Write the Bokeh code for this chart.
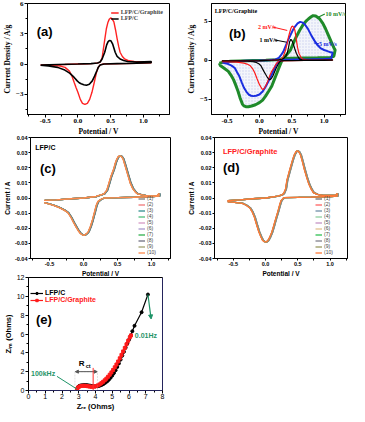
import numpy as np
from bokeh.plotting import figure
from bokeh.models import (Range1d, FixedTicker, NumeralTickFormatter, Legend, LegendItem,
                          Label, Arrow, NormalHead, BoxAnnotation, Span)
from bokeh.layouts import column, row
from bokeh.embed import file_html
from bokeh.resources import INLINE

SERIF = "Liberation Serif"
SANS = "Liberation Sans"

# ---------------- data: panel (a) ----------------
a_red_fwd_x = [-0.57, -0.4, -0.2, 0.0, 0.15, 0.25, 0.31, 0.34, 0.37, 0.39, 0.41, 0.435, 0.46, 0.48, 0.5, 0.52, 0.55, 0.575, 0.6, 0.625, 0.645, 0.68, 0.715, 0.78, 0.86, 1.0, 1.12]
a_red_fwd_y = [-0.1, -0.07, -0.04, 0.0, 0.03, 0.07, 0.12, 0.2, 0.6, 1.5, 2.4, 3.5, 4.15, 4.45, 4.57, 4.5, 4.17, 3.4, 2.5, 1.7, 1.17, 0.75, 0.5, 0.32, 0.25, 0.2, 0.2]
a_red_rev_x = [1.12, 0.9, 0.7, 0.5, 0.38, 0.34, 0.31, 0.28, 0.25, 0.215, 0.18, 0.145, 0.107, 0.07, 0.037, 0.0, -0.03, -0.056, -0.09, -0.13, -0.196, -0.27, -0.35, -0.45, -0.57]
a_red_rev_y = [0.12, 0.07, 0.04, 0.02, 0.0, -0.08, -0.33, -0.95, -1.83, -2.8, -3.5, -3.9, -4.0, -3.9, -3.5, -2.8, -2.3, -1.83, -1.2, -0.7, -0.33, -0.2, -0.15, -0.12, -0.1]
a_blk_fwd_x = [-0.57, -0.3, 0.0, 0.2, 0.3, 0.34, 0.37, 0.41, 0.44, 0.46, 0.48, 0.505, 0.53, 0.55, 0.57, 0.6, 0.645, 0.7, 0.76, 0.9, 1.12]
a_blk_fwd_y = [-0.1, -0.05, 0.0, 0.04, 0.1, 0.2, 0.5, 1.17, 1.9, 2.2, 2.33, 2.3, 2.0, 1.6, 1.17, 0.75, 0.5, 0.35, 0.25, 0.2, 0.25]
a_blk_rev_x = [1.12, 0.9, 0.6, 0.4, 0.34, 0.31, 0.29, 0.255, 0.22, 0.175, 0.13, 0.09, 0.05, 0.02, -0.01, -0.06, -0.126, -0.2, -0.31, -0.45, -0.57]
a_blk_rev_y = [0.14, 0.08, 0.04, 0.0, -0.1, -0.35, -0.67, -1.2, -1.67, -2.0, -2.1, -2.05, -1.95, -1.85, -1.67, -1.3, -0.9, -0.6, -0.33, -0.2, -0.12]

# ---------------- data: panel (b) ----------------
b1_fwd_x = [-0.58, -0.3, 0.0, 0.2, 0.3, 0.35, 0.38, 0.41, 0.43, 0.45, 0.467, 0.486, 0.5, 0.52, 0.545, 0.57, 0.6, 0.62, 0.66, 0.75, 0.9, 1.13]
b1_fwd_y = [-0.08, -0.08, -0.05, 0.0, 0.05, 0.12, 0.25, 0.55, 0.9, 1.6, 2.36, 2.66, 2.55, 2.15, 1.5, 0.89, 0.4, 0.13, 0.05, 0.0, 0.0, 0.05]
b1_rev_x = [1.13, 1.0, 0.7, 0.5, 0.38, 0.33, 0.31, 0.286, 0.26, 0.238, 0.21, 0.19, 0.167, 0.14, 0.12, 0.095, 0.07, 0.045, 0.024, -0.01, -0.048, -0.1, -0.19, -0.35, -0.58]
b1_rev_y = [0.0, -0.02, -0.03, -0.05, -0.07, -0.08, -0.25, -0.59, -1.0, -1.43, -2.0, -2.28, -2.5, -2.4, -2.15, -1.8, -1.43, -1.05, -0.72, -0.45, -0.3, -0.2, -0.13, -0.1, -0.1]
b2_fwd_x = [-0.58, -0.3, 0.0, 0.2, 0.3, 0.34, 0.37, 0.405, 0.43, 0.45, 0.47, 0.486, 0.5, 0.514, 0.53, 0.548, 0.56, 0.571, 0.59, 0.61, 0.64, 0.667, 0.75, 0.9, 1.13]
b2_fwd_y = [-0.1, -0.08, -0.05, 0.0, 0.05, 0.15, 0.5, 1.3, 2.2, 3.0, 3.6, 4.05, 4.3, 4.35, 4.2, 3.84, 3.2, 2.57, 1.6, 0.89, 0.4, 0.13, 0.02, 0.0, 0.05]
b2_rev_x = [1.13, 1.0, 0.7, 0.5, 0.35, 0.29, 0.26, 0.23, 0.19, 0.155, 0.12, 0.09, 0.07, 0.055, 0.04, 0.02, 0.0, -0.035, -0.07, -0.1, -0.14, -0.19, -0.24, -0.35, -0.58]
b2_rev_y = [0.0, -0.02, -0.04, -0.06, -0.1, -0.2, -0.46, -0.9, -1.43, -2.1, -2.9, -3.4, -3.67, -3.75, -3.67, -3.4, -3.1, -2.4, -1.65, -1.15, -0.72, -0.5, -0.38, -0.25, -0.2]
b5_fwd_x = [-0.57, -0.4, -0.2, 0.0, 0.15, 0.25, 0.3, 0.33, 0.37, 0.4, 0.44, 0.48, 0.52, 0.55, 0.59, 0.63, 0.67, 0.7, 0.75, 0.8, 0.85, 0.9, 0.95, 1.0, 1.05, 1.1, 1.13]
b5_fwd_y = [-0.3, -0.15, -0.08, -0.05, 0.0, 0.1, 0.3, 0.6, 1.1, 1.7, 2.5, 3.2, 3.9, 4.3, 4.7, 4.9, 4.8, 4.6, 4.0, 3.2, 2.5, 1.9, 1.5, 1.3, 1.15, 1.0, 0.97]
b5_rev_x = [1.13, 1.11, 1.0, 0.8, 0.6, 0.4, 0.3, 0.26, 0.225, 0.19, 0.14, 0.095, 0.05, 0.0, -0.05, -0.095, -0.13, -0.167, -0.2, -0.238, -0.27, -0.31, -0.345, -0.38, -0.43, -0.48, -0.57]
b5_rev_y = [0.97, 0.2, 0.15, 0.12, 0.1, 0.05, -0.15, -0.59, -1.2, -1.86, -2.7, -3.42, -4.0, -4.39, -4.55, -4.6, -4.55, -4.39, -4.05, -3.54, -2.9, -2.07, -1.55, -1.01, -0.7, -0.5, -0.3]
b10_fwd_x = [-0.62, -0.55, -0.45, -0.3, -0.1, 0.1, 0.25, 0.33, 0.38, 0.43, 0.48, 0.52, 0.57, 0.62, 0.67, 0.72, 0.76, 0.8, 0.83, 0.87, 0.93, 0.98, 1.02, 1.07, 1.12, 1.15, 1.17]
b10_fwd_y = [-0.38, -0.25, -0.15, -0.1, -0.05, 0.0, 0.05, 0.1, 0.3, 0.8, 1.3, 2.1, 3.0, 3.8, 4.47, 5.0, 5.3, 5.55, 5.7, 5.65, 5.3, 4.7, 4.05, 3.1, 2.15, 1.6, 1.3]
b10_rev_x = [1.17, 1.15, 1.1, 0.9, 0.7, 0.5, 0.4, 0.35, 0.31, 0.26, 0.19, 0.14, 0.095, 0.05, 0.0, -0.06, -0.12, -0.17, -0.21, -0.24, -0.26, -0.3, -0.33, -0.37, -0.4, -0.44, -0.48, -0.55, -0.6, -0.62]
b10_rev_y = [1.3, 0.5, 0.35, 0.3, 0.28, 0.25, 0.2, 0.0, -0.8, -1.86, -3.33, -4.0, -4.6, -5.1, -5.44, -5.7, -5.86, -5.95, -5.95, -5.85, -5.65, -4.8, -3.97, -3.1, -2.49, -1.9, -1.43, -1.01, -0.72, -0.38]

# ---------------- data: panels (c), (d) ----------------
c_fwd_x = [-0.58, -0.4, -0.185, 0.0, 0.185, 0.3, 0.34, 0.37, 0.4, 0.44, 0.466, 0.486, 0.51, 0.53, 0.555, 0.58, 0.61, 0.65, 0.685, 0.72, 0.76, 0.79, 0.86, 0.93, 1.0, 1.08, 1.11]
c_fwd_y = [-0.0016, -0.0012, -0.0005, 0.0, 0.001, 0.0028, 0.005, 0.0094, 0.014, 0.0188, 0.023, 0.0254, 0.0274, 0.0278, 0.0275, 0.0259, 0.0215, 0.0153, 0.01, 0.0064, 0.004, 0.0028, 0.002, 0.0014, 0.0014, 0.0016, 0.003]
c_rev_x = [1.11, 1.0, 0.74, 0.5, 0.3, 0.25, 0.21, 0.185, 0.16, 0.13, 0.1, 0.07, 0.046, 0.01, -0.02, -0.046, -0.08, -0.116, -0.15, -0.185, -0.23, -0.28, -0.35, -0.42, -0.5, -0.58]
c_rev_y = [0.0012, 0.001, 0.0005, 0.0002, 0.0, -0.001, -0.0024, -0.005, -0.0094, -0.0145, -0.0188, -0.0222, -0.0235, -0.0247, -0.0243, -0.0235, -0.0215, -0.0188, -0.016, -0.0129, -0.0098, -0.0082, -0.0065, -0.0052, -0.004, -0.003]
d_fwd_x = [-0.59, -0.4, -0.2, 0.0, 0.19, 0.25, 0.28, 0.31, 0.33, 0.37, 0.4, 0.425, 0.445, 0.47, 0.49, 0.515, 0.54, 0.57, 0.6, 0.635, 0.67, 0.705, 0.74, 0.8, 0.88, 1.0, 1.08, 1.11]
d_fwd_y = [-0.0017, -0.0012, -0.0005, 0.0, 0.0012, 0.002, 0.003, 0.006, 0.0117, 0.018, 0.0226, 0.0262, 0.0286, 0.0305, 0.0312, 0.0305, 0.0286, 0.024, 0.019, 0.0138, 0.0092, 0.006, 0.0036, 0.0024, 0.0017, 0.0017, 0.0019, 0.003]
d_rev_x = [1.11, 1.0, 0.7, 0.5, 0.28, 0.24, 0.215, 0.19, 0.155, 0.124, 0.095, 0.064, 0.035, 0.01, -0.02, -0.046, -0.075, -0.105, -0.14, -0.174, -0.21, -0.243, -0.3, -0.36, -0.45, -0.59]
d_rev_y = [0.0012, 0.001, 0.0006, 0.0004, 0.0002, -0.0017, -0.005, -0.009, -0.014, -0.0187, -0.0228, -0.026, -0.0282, -0.029, -0.0289, -0.028, -0.0255, -0.0223, -0.0175, -0.0126, -0.009, -0.0066, -0.0048, -0.0036, -0.003, -0.0024]
cycle_labels = ["(1)", "(2)", "(3)", "(4)", "(5)", "(6)", "(7)", "(8)", "(9)", "(10)"]
c_cycle_colors = ["#7a7a7a", "#f07878", "#2f8f8f", "#4cbf7a", "#d69ac4", "#a898cc", "#2fb04c", "#6e6e80", "#a0a070", "#ff8a4c"]
d_cycle_colors = ["#6e6e6e", "#ff6060", "#6f8fa8", "#8fd0a0", "#c494c4", "#e2c290", "#2fc052", "#80808c", "#9a9a60", "#ff7a38"]
c_cycle_dx = [0.016, 0.004, 0.012, 0.01, 0.003, 0.008, 0.006, 0.012, 0.004, 0.0]
d_cycle_dx = [0.016, 0.004, 0.012, 0.01, 0.003, 0.008, 0.006, 0.012, 0.004, 0.0]

# ---------------- data: panel (e) ----------------
e_lfpc_zre = [2.89, 2.95, 3.02, 3.1, 3.2, 3.3, 3.4, 3.5, 3.6, 3.7, 3.8, 3.9, 4.0, 4.1, 4.2, 4.3, 4.4, 4.5, 4.6, 4.7, 4.8, 4.9, 5.0, 5.1, 5.2, 5.3, 5.4, 5.5, 5.6, 5.7, 5.8, 5.9, 6.0, 6.1, 6.2, 6.33, 6.75, 7.13]
e_lfpc_zim = [0.15, 0.35, 0.47, 0.53, 0.56, 0.58, 0.58, 0.57, 0.54, 0.5, 0.47, 0.45, 0.44, 0.45, 0.48, 0.54, 0.62, 0.72, 0.84, 0.98, 1.15, 1.35, 1.58, 1.85, 2.15, 2.5, 2.88, 3.28, 3.7, 4.12, 4.55, 4.98, 5.4, 5.85, 6.3, 6.87, 8.31, 10.19]
e_gr_zre = [2.9, 2.97, 3.05, 3.15, 3.25, 3.35, 3.45, 3.55, 3.65, 3.75, 3.85, 3.95, 4.05, 4.15, 4.25, 4.35, 4.45, 4.55, 4.65, 4.75, 4.85, 4.95, 5.05, 5.15, 5.25, 5.35, 5.45, 5.55, 5.65, 5.75, 5.85, 5.95, 6.05, 6.12]
e_gr_zim = [0.15, 0.33, 0.43, 0.48, 0.5, 0.5, 0.48, 0.45, 0.42, 0.4, 0.4, 0.42, 0.47, 0.55, 0.65, 0.78, 0.92, 1.08, 1.26, 1.46, 1.68, 1.92, 2.18, 2.46, 2.76, 3.08, 3.42, 3.78, 4.15, 4.52, 4.9, 5.28, 5.65, 5.85]

GREEN_T = "#1f9468"


def style(p, font, tick_size, label_size, tick_out=3, label_stand=1, title_stand=1):
    p.grid.visible = False
    p.outline_line_color = "black"
    p.outline_line_alpha = 1.0
    p.outline_line_width = 1
    p.border_fill_alpha = 0
    for ax in p.axis:
        ax.axis_line_color = "black"
        ax.major_tick_line_color = "black"
        ax.minor_tick_line_color = "black"
        ax.major_tick_out = tick_out
        ax.major_tick_in = 0
        ax.minor_tick_out = 2
        ax.minor_tick_in = 0
        ax.major_label_text_font = font
        ax.major_label_text_font_style = "bold"
        ax.major_label_text_font_size = tick_size
        ax.major_label_text_color = "black"
        ax.major_label_standoff = label_stand
        ax.axis_label_text_font = font
        ax.axis_label_text_font_style = "bold"
        ax.axis_label_text_font_size = label_size
        ax.axis_label_text_color = "black"
        ax.axis_label_standoff = title_stand


def mkfig(w, h, xr, yr, bl, br, bt, bb, mb):
    # mb: negative bottom margin that takes back the empty strip Bokeh reserves below the x axis
    return figure(width=w, height=h, x_range=Range1d(*xr), y_range=Range1d(*yr),
                  min_border_left=bl, min_border_right=br, min_border_top=bt, min_border_bottom=bb,
                  margin=(0, 0, mb, 0), output_backend="svg", toolbar_location=None)


def lbl(p, x, y, text, font, size, color="black", style_="bold", baseline="middle", align="left"):
    p.add_layout(Label(x=x, y=y, text=text, text_font=font, text_font_size=size, text_color=color,
                       text_font_style=style_, text_baseline=baseline, text_align=align))


def seg(p, x0, y0, x1, y1, color, width=1, dash="solid", end=None, start=None):
    p.add_layout(Arrow(x_start=x0, y_start=y0, x_end=x1, y_end=y1, line_color=color,
                       line_width=width, line_dash=dash, end=end, start=start))


# ================= panel (a) =================
pa = mkfig(184, 138, (-0.77, 1.40), (-5, 6), 15, 15, 3, 18, -9)
style(pa, SERIF, "7px", "7.5px")
pa.xaxis.axis_label = "Potential / V"
pa.yaxis.axis_label = "Current Density / A/g"
pa.xaxis.ticker = FixedTicker(ticks=[-0.5, 0.0, 0.5, 1.0], minor_ticks=[-0.75, -0.25, 0.25, 0.75, 1.25])
pa.yaxis.ticker = FixedTicker(ticks=[-3, 0, 3, 6], minor_ticks=[-4.5, -1.5, 1.5, 4.5])
pa.xaxis.formatter = NumeralTickFormatter(format="0.0")
ra = pa.line(a_red_fwd_x + a_red_rev_x, a_red_fwd_y + a_red_rev_y, line_color="#ff2222", line_width=1.4)
ka = pa.line(a_blk_fwd_x + a_blk_rev_x, a_blk_fwd_y + a_blk_rev_y, line_color="black", line_width=1.6)
leg_a = Legend(items=[LegendItem(label="LFP/C/Graphite", renderers=[ra]), LegendItem(label="LFP/C", renderers=[ka])],
               location="top_right", label_text_font=SERIF, label_text_font_style="bold",
               label_text_font_size="6px", label_height=5, glyph_height=5, glyph_width=8,
               spacing=0, padding=1, margin=5, label_standoff=2,
               border_line_alpha=0, background_fill_alpha=0)
pa.add_layout(leg_a)
lbl(pa, -0.63, 2.5, "(a)", SANS, "13px", baseline="bottom")

# ================= panel (b) =================
pb = mkfig(165, 138, (-0.74, 1.33), (-6.95, 7.25), 20, 4, 3, 18, -9)
style(pb, SERIF, "7px", "7.5px")
pb.xaxis.axis_label = "Potential / V"
pb.yaxis.axis_label = "Current Density / A/g"
pb.xaxis.ticker = FixedTicker(ticks=[-0.5, 0.0, 0.5, 1.0], minor_ticks=[-0.25, 0.25, 0.75, 1.25])
pb.yaxis.ticker = FixedTicker(ticks=[-5, 0, 5], minor_ticks=[-2.5, 2.5])
pb.xaxis.formatter = NumeralTickFormatter(format="0.0")
pb.patch(b10_fwd_x + b10_rev_x, b10_fwd_y + b10_rev_y, fill_color="#e8ecf8", fill_alpha=0.5,
         hatch_pattern=".", hatch_color="#7b8bd0", hatch_alpha=0.35, hatch_scale=3, line_alpha=0)
pb.line(b10_fwd_x + b10_rev_x, b10_fwd_y + b10_rev_y, line_color="#1f8a2a", line_width=3)
pb.line(b5_fwd_x + b5_rev_x, b5_fwd_y + b5_rev_y, line_color="#1a2ee0", line_width=2)
pb.line(b2_fwd_x + b2_rev_x, b2_fwd_y + b2_rev_y, line_color="#ff1a1a", line_width=1.2)
pb.line(b1_fwd_x + b1_rev_x, b1_fwd_y + b1_rev_y, line_color="black", line_width=1.2)
lbl(pb, -0.69, 6.3, "LFP/C/Graphite", SERIF, "6px")
lbl(pb, -0.47, 2.5, "(b)", SANS, "13px", baseline="bottom")
lbl(pb, 1.02, 5.95, "10 mV/s", SERIF, "6px", color="#1f8a2a")
seg(pb, 0.9, 5.45, 1.01, 5.9, "#1f8a2a", width=1.2)
lbl(pb, -0.02, 4.3, "2 mV/s", SERIF, "6px", color="#ff1a1a")
seg(pb, 0.2, 4.25, 0.43, 3.8, "#ff1a1a")
lbl(pb, 0.0, 2.6, "1 mV/s", SERIF, "6px")
seg(pb, 0.23, 2.6, 0.42, 2.3, "black")
lbl(pb, 0.92, 2.1, "5 mV/s", SERIF, "6px", color="#1a2ee0")
seg(pb, 0.84, 2.2, 0.92, 2.1, "#1a2ee0")


# ================= panels (c), (d) =================
def cv_panel(w, bl, br, fx, fy, rx, ry, colors, dxs, xr):
    p = mkfig(w, 150, xr, (-0.04, 0.04), bl, br, 8, 18, -14)
    style(p, SANS, "5.5px", "6.5px", tick_out=2, title_stand=1)
    p.xaxis.axis_label = "Potential / V"
    p.yaxis.axis_label = "Current / A"
    p.xaxis.ticker = FixedTicker(ticks=[-0.5, 0.0, 0.5, 1.0], minor_ticks=[-0.75, -0.25, 0.25, 0.75, 1.25])
    p.yaxis.ticker = FixedTicker(ticks=[-0.04, -0.03, -0.02, -0.01, 0.0, 0.01, 0.02, 0.03, 0.04])
    p.xaxis.formatter = NumeralTickFormatter(format="0.0")
    p.yaxis.formatter = NumeralTickFormatter(format="0.00")
    xs = np.array(fx + rx)
    ys = np.array(fy + ry)
    items = []
    for lab, col, dx in zip(cycle_labels, colors, dxs):
        r = p.line(xs + dx, ys, line_color=col, line_width=1.3)
        items.append(LegendItem(label=lab, renderers=[r]))
    leg = Legend(items=items, location="bottom_right", label_text_font=SANS,
                 label_text_font_size="5px", label_height=5, glyph_height=5, glyph_width=7,
                 spacing=0, padding=1, margin=2, label_standoff=2,
                 border_line_alpha=0, background_fill_alpha=0)
    p.add_layout(leg)
    return p


pc = cv_panel(184, 23, 14, c_fwd_x, c_fwd_y, c_rev_x, c_rev_y, c_cycle_colors, c_cycle_dx, (-0.78, 1.28))
lbl(pc, -0.71, 0.0335, "LFP/C", SANS, "7px")
lbl(pc, -0.64, 0.0145, "(c)", SANS, "13px", baseline="bottom")
pd = cv_panel(165, 20, 2, d_fwd_x, d_fwd_y, d_rev_x, d_rev_y, d_cycle_colors, d_cycle_dx, (-0.79, 1.27))
lbl(pd, -0.66, 0.031, "LFP/C/Graphite", SANS, "7.5px", color="#ff2020")
lbl(pd, -0.66, 0.015, "(d)", SANS, "13px", baseline="bottom")

# ================= panel (e) =================
pe = mkfig(171, 148, (0, 8), (0, 12), 24, 9, 12, 21, -7)
style(pe, SANS, "7px", "7.5px", tick_out=3)
for ax in pe.axis:
    ax.major_label_text_font_style = "normal"
pe.xaxis.major_label_standoff = 0
pe.xaxis.axis_label_standoff = 0
pe.xaxis.axis_label = "Zᵣₑ (Ohms)"
pe.yaxis.axis_label = "Zᵢₘ (Ohms)"
pe.xaxis.ticker = FixedTicker(ticks=list(range(0, 9)), minor_ticks=[i + 0.5 for i in range(8)])
pe.yaxis.ticker = FixedTicker(ticks=[0, 2, 4, 6, 8, 10, 12], minor_ticks=[1, 3, 5, 7, 9, 11])
pe.add_layout(Span(location=0, dimension="width", line_color="#4848b8", line_width=1))
pe.add_layout(Span(location=8, dimension="height", line_color="#4848b8", line_width=1))
pe.add_layout(BoxAnnotation(left=2.77, right=4.12, bottom=0, top=2.0, fill_alpha=0,
                            line_color="#9a9a9a", line_dash="2 1", line_width=1))
seg(pe, 2.8, 2.0, 4.1, 2.0, "#555555", end=NormalHead(size=3, line_color="#555555", fill_color="#555555"),
    start=NormalHead(size=3, line_color="#555555", fill_color="#555555"))
seg(pe, 3.86, 0.0, 3.86, 2.4, "#ff3030")
lbl(pe, 3.0, 2.85, "R", SANS, "8px")
lbl(pe, 3.42, 2.55, "ct", SANS, "5.5px")
le1 = pe.line(e_lfpc_zre, e_lfpc_zim, line_color="black", line_width=1.2)
le1m = pe.scatter(e_lfpc_zre, e_lfpc_zim, marker="circle", size=3, fill_color="black", line_color="black")
le2 = pe.line(e_gr_zre, e_gr_zim, line_color="#ff1a1a", line_width=1.2)
le2m = pe.scatter(e_gr_zre, e_gr_zim, marker="square", size=3, fill_color="#ff1a1a", line_color="#ff1a1a")
leg_e1 = Legend(items=[LegendItem(label="LFP/C", renderers=[le1, le1m])], location=(1, 93),
                label_text_font=SANS, label_text_font_style="bold", label_text_font_size="7px",
                label_text_color="black", label_height=6, glyph_height=6, glyph_width=13,
                spacing=0, padding=1, margin=0, label_standoff=2,
                border_line_alpha=0, background_fill_alpha=0)
leg_e2 = Legend(items=[LegendItem(label="LFP/C/Graphite", renderers=[le2, le2m])], location=(1, 86),
                label_text_font=SANS, label_text_font_style="bold", label_text_font_size="7px",
                label_text_color="#ff1a1a", label_height=6, glyph_height=6, glyph_width=13,
                spacing=0, padding=1, margin=0, label_standoff=2,
                border_line_alpha=0, background_fill_alpha=0)
pe.add_layout(leg_e1)
pe.add_layout(leg_e2)
lbl(pe, 0.45, 6.7, "(e)", SANS, "13px", baseline="bottom")
lbl(pe, 0.15, 1.8, "100kHz", SANS, "7px", color=GREEN_T)
seg(pe, 1.7, 1.5, e_lfpc_zre[0], e_lfpc_zim[0], GREEN_T)
lbl(pe, 6.35, 5.85, "0.01Hz", SANS, "7px", color=GREEN_T)
seg(pe, e_lfpc_zre[-1], e_lfpc_zim[-1], 7.32, 7.6, GREEN_T, width=1.2,
    end=NormalHead(size=4, line_color=GREEN_T, fill_color=GREEN_T))

layout = column(row(pa, pb), row(pc, pd), row(pe))
open("out.html", "w").write(file_html(layout, INLINE))
